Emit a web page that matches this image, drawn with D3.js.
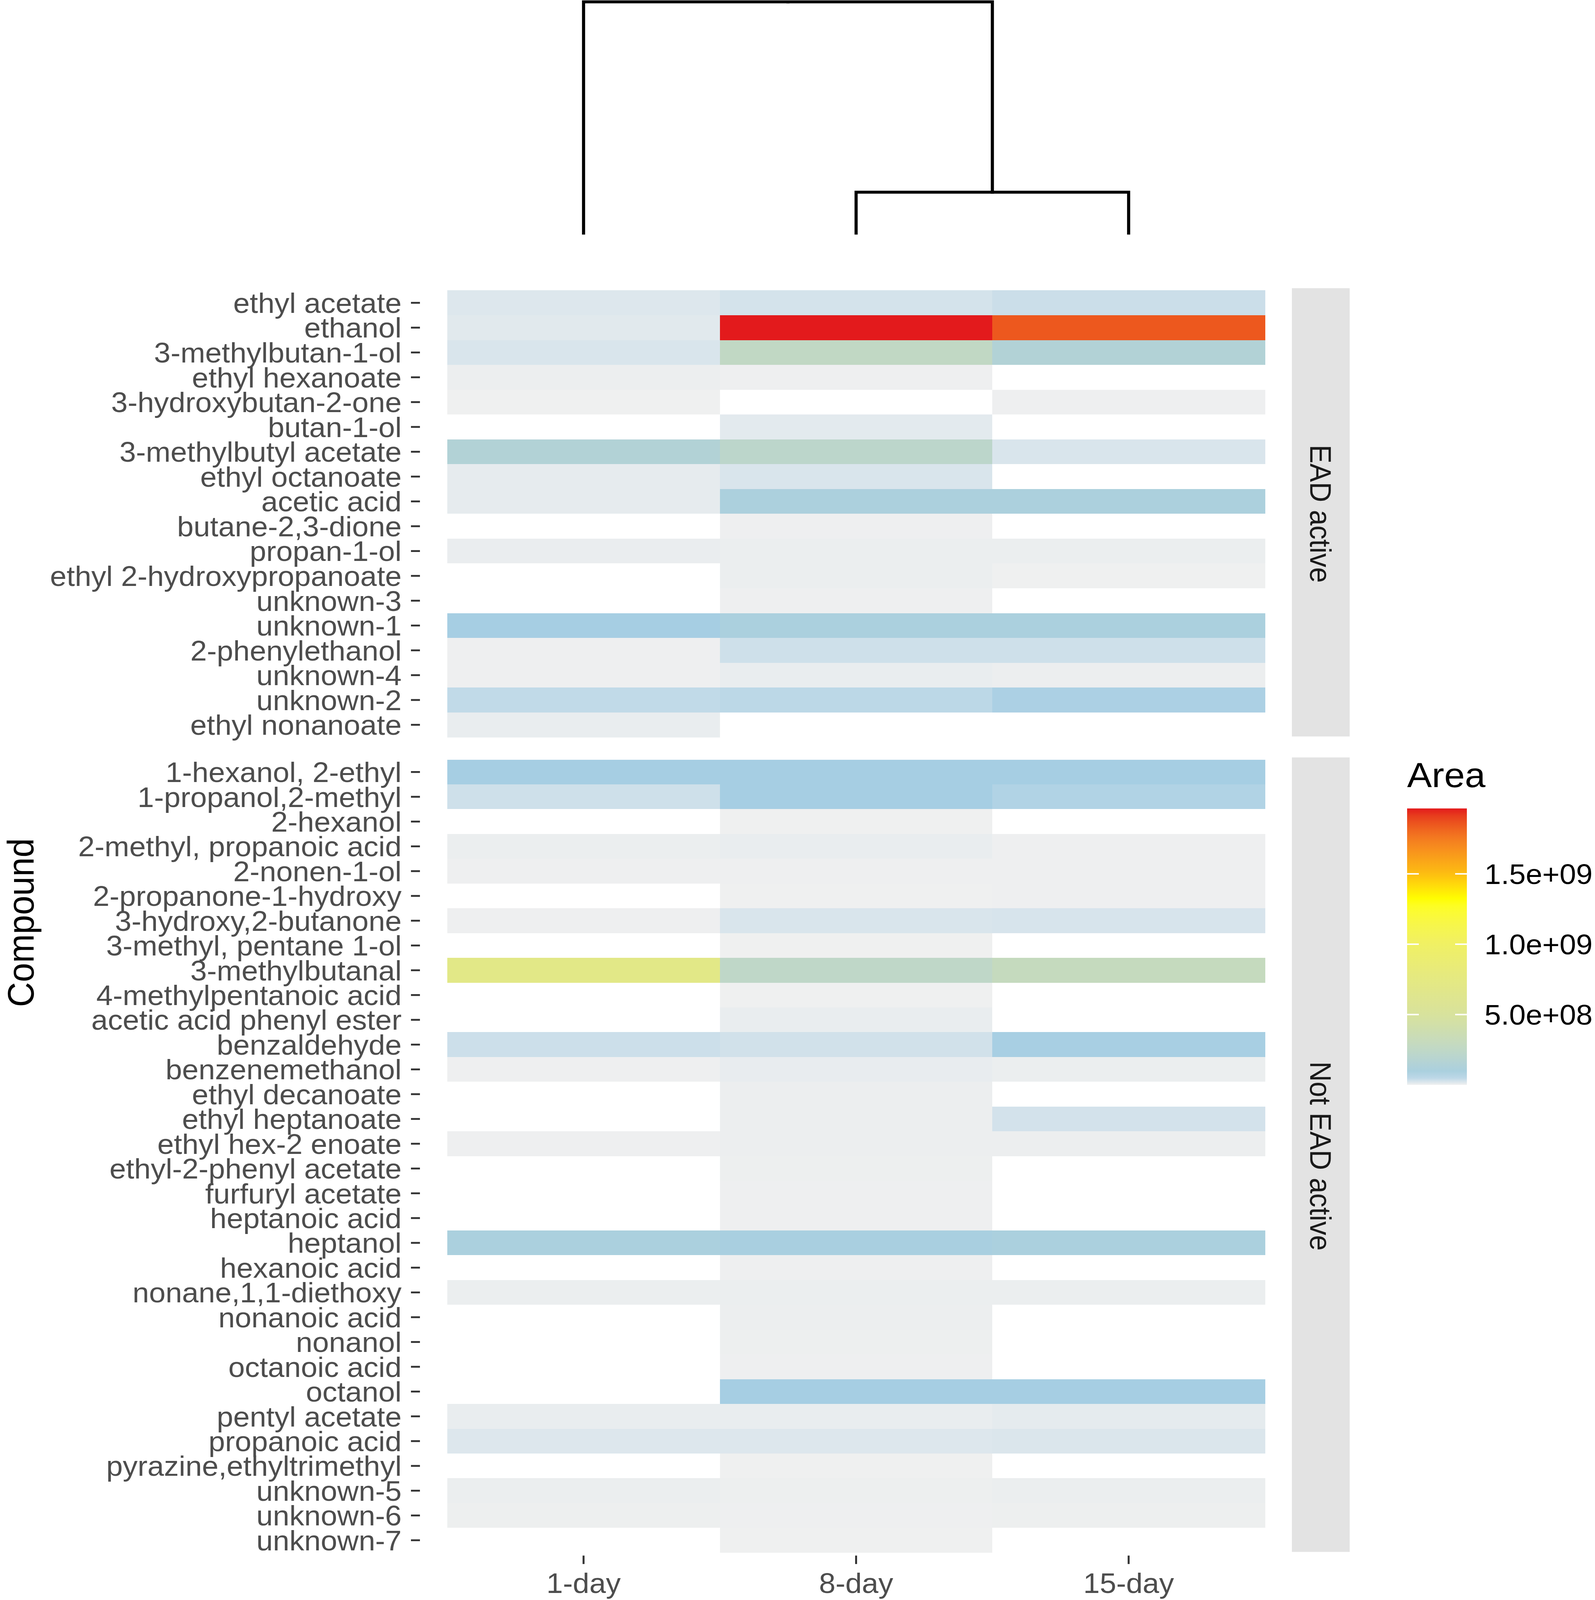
<!DOCTYPE html>
<html>
<head>
    <meta charset="UTF-8">
    <style>
        * { margin: 0; padding: 0; }
        html, body { background-color: #fff; overflow: hidden; }
        #chart { display: block; width: 100vw; height: 100vh; }
        text { font-family: "Liberation Sans", Arial, Helvetica, sans-serif; }
    </style>
    <script src="https://d3js.org/d3.v7.min.js"></script>
    <title>Compound heatmap</title>
</head>
<body>
<svg id="chart" viewBox="0 0 4083 4358" preserveAspectRatio="none"></svg>
<script>
    // ---- data ----
    var days = ["1-day", "8-day", "15-day"];

    var eadCompounds = ["ethyl acetate", "ethanol", "3-methylbutan-1-ol", "ethyl hexanoate",
        "3-hydroxybutan-2-one", "butan-1-ol", "3-methylbutyl acetate", "ethyl octanoate",
        "acetic acid", "butane-2,3-dione", "propan-1-ol", "ethyl 2-hydroxypropanoate",
        "unknown-3", "unknown-1", "2-phenylethanol", "unknown-4", "unknown-2", "ethyl nonanoate"];

    var notEadCompounds = ["1-hexanol, 2-ethyl", "1-propanol,2-methyl", "2-hexanol",
        "2-methyl, propanoic acid", "2-nonen-1-ol", "2-propanone-1-hydroxy", "3-hydroxy,2-butanone",
        "3-methyl, pentane 1-ol", "3-methylbutanal", "4-methylpentanoic acid",
        "acetic acid phenyl ester", "benzaldehyde", "benzenemethanol", "ethyl decanoate",
        "ethyl heptanoate", "ethyl hex-2 enoate", "ethyl-2-phenyl acetate", "furfuryl acetate",
        "heptanoic acid", "heptanol", "hexanoic acid", "nonane,1,1-diethoxy", "nonanoic acid",
        "nonanol", "octanoic acid", "octanol", "pentyl acetate", "propanoic acid",
        "pyrazine,ethyltrimethyl", "unknown-5", "unknown-6", "unknown-7"];

    // peak areas, EAD active compounds first, then not EAD active (null = not detected)
    var area1day = [1.8e7, 1.5e7, 2.2e7, 4e6, 1e6, null, 1.5e8, 1.0e7, 1.0e7, null, 6e6, null,
        null, 7.0e7, 2e6, 2e6, 4.5e7, 7e6,
        7.0e7, 3.3e7, null, 5e6, 2e6, null, 2e6, null, 7.0e8, null, null, 3.5e7, 2e6, null,
        null, 2e6, null, null, null, 1.0e8, null, 5e6, null, null, null, null, 7e6, 1.8e7,
        null, 5e6, 3e6, null];
    var area8day = [2.7e7, 1.965e9, 2.6e8, 2e6, null, 1.3e7, 2.2e8, 2.2e7, 1.1e8, 2e6, 5e6, 5e6,
        2e6, 1.0e8, 3.3e7, 7e6, 5.0e7, null,
        7.0e7, 7.0e7, 1e6, 7e6, 2e6, 1e6, 2.2e7, 1e6, 2.4e8, 1e6, 7e6, 3.0e7, 8e6, 4e6,
        4e6, 4e6, 3e6, 2e6, 2e6, 9.0e7, 2e6, 5e6, 4e6, 3e6, 2e6, 7.0e7, 7e6, 1.8e7,
        1e6, 3e6, 2e6, 1e6];
    var area15day = [3.6e7, 1.85e9, 1.5e8, null, 2e6, null, 2.2e7, null, 1.1e8, null, 5e6, 1e6,
        null, 1.0e8, 3.3e7, 4e6, 6.5e7, null,
        7.0e7, 6.0e7, null, 2e6, 2e6, 2e6, 2.4e7, null, 3.0e8, null, null, 6.8e7, 5e6, null,
        2.8e7, 4e6, null, null, null, 1.0e8, null, 5e6, null, null, null, 7.0e7, 1.1e7, 2.0e7,
        null, 5e6, 3e6, null];

    var groups = ["EAD active", "Not EAD active"];
    var legendTicks = [5e8, 1e9, 1.5e9];
    var areaMax = 1.965e9;

    // dendrogram of the three sampling days (relative merge heights)
    var dendro = { height: 1, children: [
        { name: "1-day" },
        { height: 0.177, children: [{ name: "8-day" }, { name: "15-day" }] }
    ]};

    // ---- layout ----
    var svg = d3.select("#chart");
    var left = 1145, right = 3238;
    var panels = [
        { group: groups[0], compounds: eadCompounds, top: 791, bottom: 2008, offset: 0 },
        { group: groups[1], compounds: notEadCompounds, top: 2069, bottom: 4229, offset: eadCompounds.length }
    ];

    var x = d3.scaleBand().domain(days).range([left, right]).padding(0);

    var colourStops = [0, 0.7e8, 2.5e8, 5e8, 10e8, 13.2e8, 15e8, 17.5e8, areaMax];
    var colour = d3.scaleLinear()
        .domain(colourStops)
        .range(["#f0f0f0", "#a6cee3", "#c0d8c6", "#d8e29c", "#f0f064", "#ffff00", "#fdbd10", "#f47b20", "#e31a1c"])
        .interpolate(d3.interpolateLab)
        .clamp(true);

    var series = [area1day, area8day, area15day];

    // ---- heatmap panels ----
    panels.forEach(function (p) {
        var y = d3.scaleBand().domain(p.compounds).range([p.top, p.bottom]).padding(0);

        var cells = [];
        p.compounds.forEach(function (c, i) {
            days.forEach(function (d, j) {
                cells.push({ compound: c, day: d, value: series[j][p.offset + i] });
            });
        });

        svg.append("g").selectAll("rect")
            .data(cells)
            .enter()
            .append("rect")
            .attr("x", function (d) { return x(d.day); })
            .attr("y", function (d) { return y(d.compound); })
            .attr("width", x.bandwidth() + 0.5)
            .attr("height", y.bandwidth() + 0.5)
            .attr("shape-rendering", "crispEdges")
            .attr("fill", function (d) { return d.value == null ? "#ffffff" : colour(d.value); });

        // y axis: labels and ticks
        var ay = svg.append("g").attr("transform", "translate(1075,0)")
            .call(d3.axisLeft(y).tickSize(23).tickPadding(24));
        ay.select(".domain").remove();
        ay.selectAll(".tick line").attr("stroke", "#333333").attr("stroke-width", 5);
        ay.selectAll(".tick text")
            .attr("font-size", "76px")
            .attr("fill", "#4d4d4d")
            .attr("dy", "0.36em")
            .style("font-family", "'Liberation Sans', Arial, sans-serif");

        // facet strip
        svg.append("rect")
            .attr("x", 3307).attr("y", p.top - 6)
            .attr("width", 148).attr("height", p.bottom - p.top + 4)
            .attr("fill", "#e3e3e3");
        svg.append("text")
            .attr("transform", "translate(3381," + ((p.top + p.bottom) / 2) + ") rotate(90)")
            .attr("text-anchor", "middle")
            .attr("dy", "0.36em")
            .attr("font-size", "76px")
            .attr("fill", "#1a1a1a")
            .text(p.group);
    });

    // x axis
    var ax = svg.append("g").attr("transform", "translate(0,4237)")
        .call(d3.axisBottom(x).tickSize(23).tickPadding(24));
    ax.select(".domain").remove();
    ax.selectAll(".tick line").attr("stroke", "#333333").attr("stroke-width", 5);
    ax.selectAll(".tick text")
        .attr("font-size", "76px")
        .attr("fill", "#4d4d4d")
        .attr("dy", "0.72em")
        .style("font-family", "'Liberation Sans', Arial, sans-serif");

    // y title
    svg.append("text")
        .attr("transform", "translate(86,2513) rotate(-90)")
        .attr("text-anchor", "middle")
        .attr("font-size", "94px")
        .attr("fill", "#000")
        .text("Compound");

    // ---- dendrogram ----
    var yd = d3.scaleLinear().domain([0, 1]).range([635, 5]);

    function place(node) {
        if (!node.children) {
            node.x = x(node.name) + x.bandwidth() / 2;
            node.h = 0;
        } else {
            node.children.forEach(place);
            node.x = d3.mean(node.children, function (c) { return c.x; });
            node.h = node.height;
        }
    }
    place(dendro);

    var links = [];
    (function collect(node) {
        if (!node.children) return;
        node.children.forEach(function (c) {
            links.push({ x0: node.x, h0: node.h, x1: c.x, h1: c.h });
            collect(c);
        });
    })(dendro);

    svg.append("g").selectAll("path")
        .data(links)
        .enter()
        .append("path")
        .attr("fill", "none")
        .attr("stroke", "#000")
        .attr("stroke-width", 8)
        .attr("stroke-linecap", "square")
        .attr("d", function (d) {
            return "M" + d.x0 + "," + yd(d.h0) + "H" + d.x1 + "V" + yd(d.h1);
        });

    // ---- legend ----
    var legY = d3.scaleLinear().domain([0, areaMax]).range([2955, 2202]);
    var defs = svg.append("defs");
    var grad = defs.append("linearGradient")
        .attr("id", "areaGrad")
        .attr("x1", 0).attr("y1", 1).attr("x2", 0).attr("y2", 0);
    d3.range(0, 41).forEach(function (i) {
        var v = areaMax * i / 40;
        grad.append("stop")
            .attr("offset", (i / 40))
            .attr("stop-color", colour(v));
    });

    svg.append("text")
        .attr("x", 3602).attr("y", 2144)
        .attr("font-size", "95px")
        .attr("fill", "#000")
        .text("Area");

    svg.append("rect")
        .attr("x", 3602).attr("y", legY(areaMax))
        .attr("width", 153).attr("height", legY(0) - legY(areaMax))
        .attr("fill", "url(#areaGrad)");

    function sci(v) {
        var s = d3.format(".1e")(v);
        return s.replace(/e([+-])(\d)$/, "e$10$2");
    }

    var lt = svg.append("g").selectAll("g")
        .data(legendTicks)
        .enter()
        .append("g");
    lt.append("line")
        .attr("x1", 3602).attr("x2", 3632)
        .attr("y1", function (d) { return legY(d); })
        .attr("y2", function (d) { return legY(d); })
        .attr("stroke", "#fff").attr("stroke-width", 4);
    lt.append("line")
        .attr("x1", 3725).attr("x2", 3755)
        .attr("y1", function (d) { return legY(d); })
        .attr("y2", function (d) { return legY(d); })
        .attr("stroke", "#fff").attr("stroke-width", 4);
    lt.append("text")
        .attr("x", 3800)
        .attr("y", function (d) { return legY(d); })
        .attr("dy", "0.36em")
        .attr("font-size", "76px")
        .attr("fill", "#000")
        .text(function (d) { return sci(d); });
</script>
</body>
</html>
